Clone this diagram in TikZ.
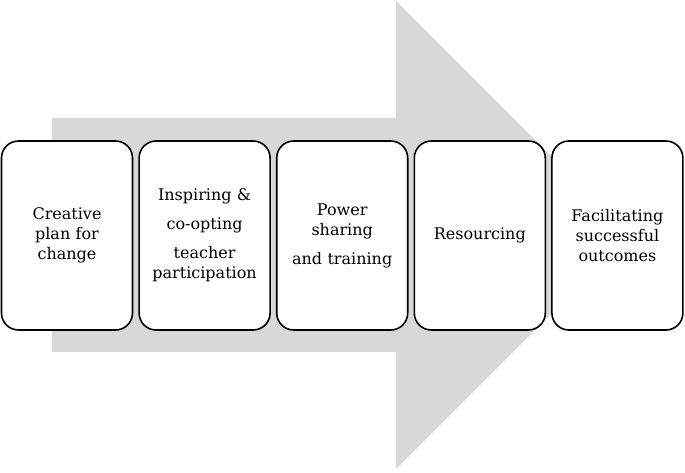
\documentclass[tikz,border=0pt]{standalone}
\usepackage{fontspec}
\setmainfont{DejaVu Serif}
\usetikzlibrary{positioning}
\definecolor{agray}{RGB}{216,216,216}
\begin{document}
\begin{tikzpicture}[x=1pt,y=-1pt,
  stage/.style={draw,line width=1.6pt,rounded corners=17pt,fill=white,
                minimum width=131pt,minimum height=189pt,text width=125pt,
                align=center,inner sep=0pt,font=\fontsize{16}{20}\selectfont}
]
\useasboundingbox (0,0) rectangle (685,472);
% big arrow behind the stages
\fill[agray] (52,118) -- (396,118) -- (396,1) -- (630,235) -- (396,469)
  -- (396,352) -- (52,352) -- cycle;
\node[stage] (plan) at (67,235.5) {Creative\\plan for\\change};
\node[stage,right=5pt of plan] (coopt) {Inspiring \&\\[9pt]co-opting\\[9pt]teacher\\participation};
\node[stage,right=5pt of coopt] (power) {Power\\sharing\\[9pt]and training};
\node[stage,right=5pt of power] (res) {Resourcing};
\node[stage,right=5pt of res] (outc) {Facilitating\\successful\\outcomes};
\end{tikzpicture}
\end{document}
